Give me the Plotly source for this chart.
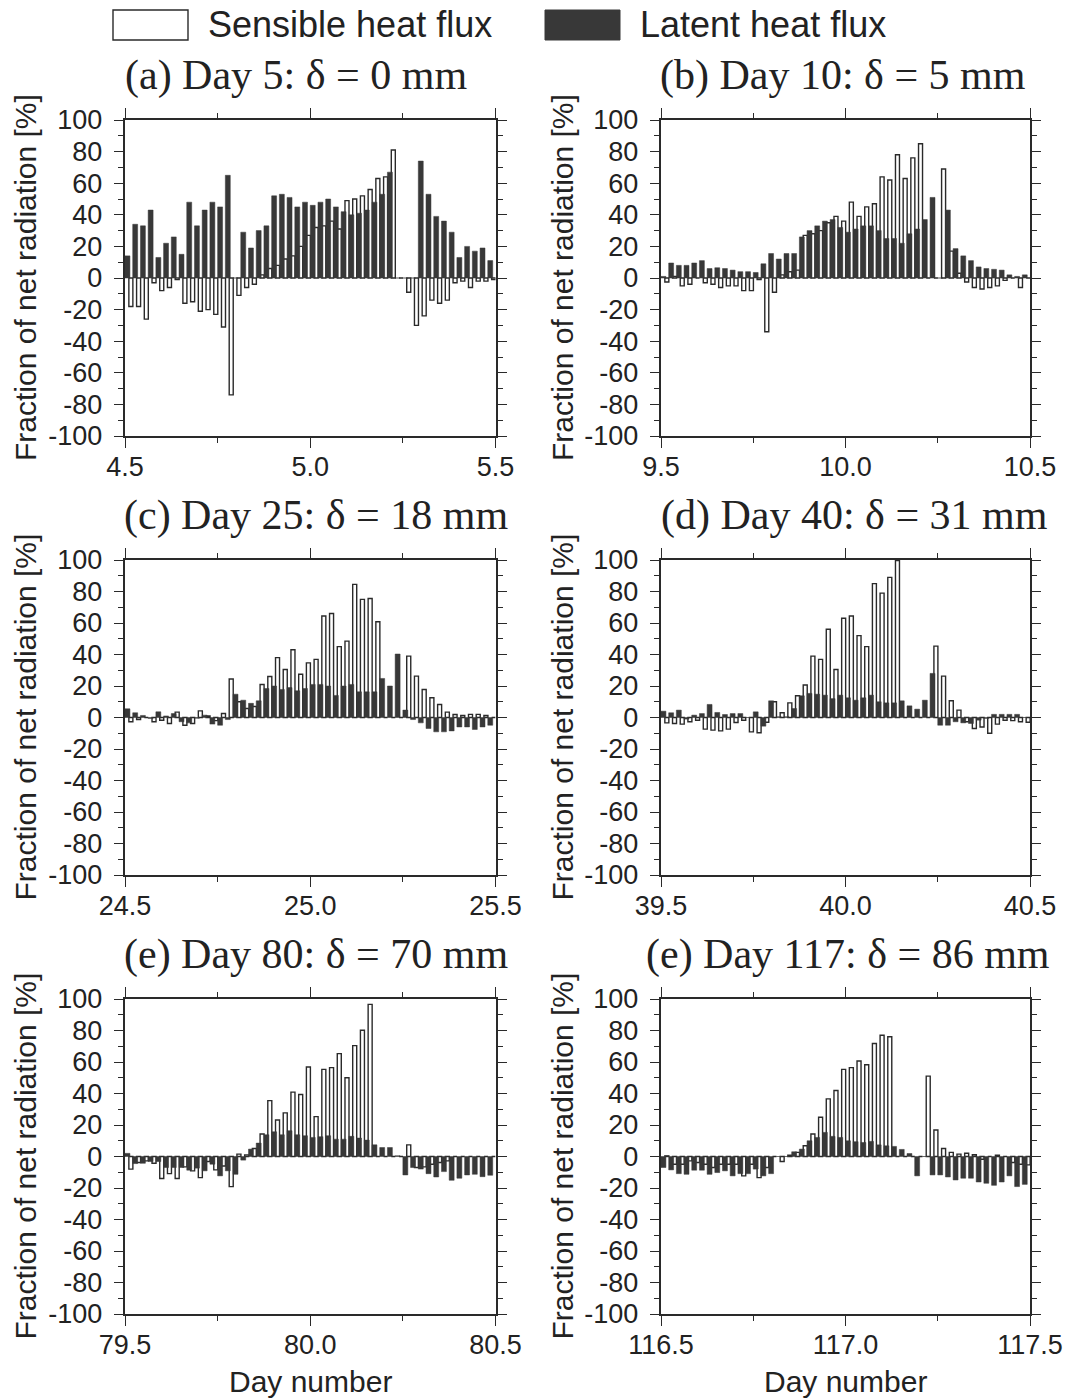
import numpy as np
import plotly.graph_objects as go

# ---------------- data ----------------
day_starts = [4.5, 9.5, 24.5, 39.5, 79.5, 116.5]
panel_titles = ["(a) Day 5: δ = 0 mm", "(b) Day 10: δ = 5 mm",
                "(c) Day 25: δ = 18 mm", "(d) Day 40: δ = 31 mm",
                "(e) Day 80: δ = 70 mm", "(e) Day 117: δ = 86 mm"]
slot_fraction = np.arange(48) / 48.0   # half-hourly slots within each plotted day

sens_a = [-18, -18, -26, -3, -8, -6, -1, -16, -15, -21, -20, -23, -31, -74, -11, -6, -4,
          2, 6, 8, 12, 14, 20, 27, 32, 33, 36, 31, 49, 50, 52, 56, 63, 64, 81,
          0, -9, -30, -24, -14, -16, -14, -3, -2, -6, -2, -2, -1]
lat_a = [14, 34, 33, 43, 13, 22, 26, 15, 48, 33, 43, 48, 45, 65, 0,
         29, 19, 30, 33, 52, 53, 51, 45, 48, 46, 48, 50, 45, 42, 40, 41, 43, 48, 53, 67,
         0, 0, 0, 74, 53, 39, 36, 29, 13, 20, 17, 19, 11]

sens_b = [-2.5, 1, -5, -4, 0, -3, -4, -6, -5, -5, -8, -8, -1, -34, -9, 2, 4, 5,
          27, 28, 30, 35, 39, 36, 48, 39, 45, 47, 64, 62, 78, 63, 76, 85, 0, 0,
          69, 17, 3, -2.5, -6, -7, -6, -5, -1.5, 0, -6, 0]
lat_b = [1, 9.5, 8, 8, 9.5, 11, 6, 6.5, 6, 5, 4, 4, 3.5,
         9, 15.5, 12, 15.5, 15.5, 26, 30, 33, 36, 37, 32, 29, 31, 33, 33, 30, 25, 25, 22, 28, 31, 37, 51,
         0, 43, 18.6, 14, 11, 7, 6, 5.5, 5, 2, 1, 2]

sens_c = [-2.7, -1.3, 0, -2.7, -1.7, -3.8, 3.4, -4.9, -3.8, 4.2, 1, -2, 2.5, 24.4,
          10, 5.7, 7, 21, 26, 38, 30.5, 43, 27.5, 34.7, 36.9, 64.4, 66, 45, 48.5, 84.5,
          75, 75.6, 60.8, 0, 0, 0, 39, 26.3, 17.8, 12.5, 8.3, 3.4, 1.9, 1.3, 2, 2, 1.3, 0]
lat_c = [5.5, 3, 1.3, -0.6, 3.6, 1, 2.5, -2.7, -3.4, -0.5, 1.5, -4.2, -4.9, -1.3,
         14.8, 11, 9, 10.6, 18.4, 20, 17.8, 19, 17, 18.4, 21, 21, 20, 14, 20, 21,
         16.3, 16.3, 16.3, 24.8, 20, 40.3, 4.7, -1.3, -3.4, -7, -9.1, -9.1, -8.5, -6, -6, -7.6, -6, -4.9]

sens_d = [-3.4, -3.8, -4.2, -2.7, -1.7, -7.4, -8, -8.5, -7.4, -3.2, -1.7, -9.1, -9.7, -3,
          10, 3, 9.3, 13.8, 20.6, 39, 36.9, 56, 30.5, 63, 64.4, 52, 45, 85, 79, 89, 99.6,
          0, 0, 0, 0, 45.3, 26.3, 10.6, 4.7, -2.7, -7, -6, -10, -4.2, -1.7, -2, -2.7, -3]
lat_d = [4, 3, 4.7, -1, 1.5, 2.5, 8.3, 3.2, 1.9, 2.5, 2.5, 0, 3.6, -5.5,
         10.6, 0.5, 0.5, 5.7, 13.8, 15.3, 14.8, 14.2, 12, 14.2, 12.5, 11, 12.5, 14.2, 10, 9.3, 9.3,
         10.6, 7.4, 5.3, 11, 28, -4.9, -4.9, -2.7, -3.4, -3.8, -1.7, -0.6, 2, 2, 2, 2, 0]

sens_e = [-8, -3.8, -2.8, -4.3, -14, -10.9, -14, -6.6, -9.1, -13.4, -3.2, -8.5, -6, -19.1,
          1.5, 1, 5.1, 14.3, 35.5, 23.2, 27.7, 40.9, 39.4, 56.8, 25.3, 55.3, 56.4, 65.3, 50,
          70.4, 80.2, 96.6, 0, 0, 0, 0, 7.4, -7, -6.6, -4.9, -3.8, -2.8, 0, 0, 0, 0, 0, 0]
lat_e = [2, -4.5, -4.3, -3.2, -3.2, -7, -7, -7, -8.7, -7.4, -9.1, -4.9, -12.3, -9.1, -11.3, -2.3,
         4.7, 8.5, 13.8, 15.7, 13.8, 16.4, 13.8, 13.2, 12.1, 12.6, 13.2, 11, 11, 12.8, 11.7, 10.4,
         7.4, 5.7, 5.7, 0.5, -11.7, -7, -8, -10.9, -13, -9.6, -15.1, -13.8, -11.7, -11.3, -12.8, -11.9]

sens_f = [0.4, -4.9, -4.9, -2.8, -3.8, -4.9, -7, -4.9, -4.9, -4.9, -12.3, -4.9, -13.4, -7,
          0, -3.2, 0.9, 2.6, 6.8, 14.3, 24.9, 36.6, 41.9, 55.3, 56.4, 60.6, 58.3, 71.7, 77, 76,
          0, 0, 0, 0, 51, 16.8, 5.1, 2.6, 1.5, 2.1, 1.1, -1.7, 0, 0.9, 0, -3.8, -4.9, -5.3]
lat_f = [-7, -8.5, -10.9, -11.3, -8.7, -8.7, -11.3, -10.2, -9.1, -12.3, -10.9, -10.9, -8, -12.3, -10.9,
         0, 0, 3, 4.7, 10, 12.1, 15.3, 12.8, 12.1, 10, 9.4, 8.9, 9.6, 7.4, 6.8, 6.4, 4.5, 1.9,
         -12.3, 0, -11.7, -11.7, -13, -14.9, -13.8, -13.8, -16.2, -17, -18.3, -16.2, -12.3, -19.1, -17.7]

sensible = [sens_a, sens_b, sens_c, sens_d, sens_e, sens_f]
latent = [lat_a, lat_b, lat_c, lat_d, lat_e, lat_f]

y_tickvals = list(range(-100, 101, 20))
y_ticktext = [str(v) for v in y_tickvals]

# ---------------- layout geometry ----------------
W, H = 1073, 1399
xdoms = [[125 / W, 495.5 / W], [661 / W, 1030 / W]]
rows_px = [(120, 436), (560, 875), (999, 1314)]
ydoms = [[1 - b / H, 1 - t / H] for t, b in rows_px]
title_centers_px = [296, 843, 316, 854, 316, 848]

DARK = "#383838"
AX = "#2a2a2a"
SANS = "Liberation Sans, Arial, sans-serif"
SERIF = "Liberation Serif, Times New Roman, serif"

fig = go.Figure()
slot = 1 / 48.0
layout = dict(width=W, height=H,
              margin=dict(l=0, r=0, t=0, b=0, pad=0, autoexpand=False),
              paper_bgcolor="white", plot_bgcolor="white", barmode="overlay",
              showlegend=False)
annotations = []

for i in range(6):
    r, c = divmod(i, 2)
    t0 = day_starts[i]
    times = t0 + slot_fraction
    n = i + 1
    xa, ya = ("x", "y") if n == 1 else (f"x{n}", f"y{n}")
    fig.add_trace(go.Bar(x=times, y=sensible[i], offset=0.5 * slot, width=0.52 * slot,
                         marker=dict(color="white", line=dict(color=AX, width=1.4)),
                         xaxis=xa, yaxis=ya, name="Sensible heat flux"))
    fig.add_trace(go.Bar(x=times, y=latent[i], offset=0.0, width=0.64 * slot,
                         marker=dict(color=DARK, line=dict(color=DARK, width=0.5)),
                         xaxis=xa, yaxis=ya, name="Latent heat flux"))
    xk = "xaxis" if n == 1 else f"xaxis{n}"
    yk = "yaxis" if n == 1 else f"yaxis{n}"
    layout[xk] = dict(domain=xdoms[c], anchor=ya, range=[t0, t0 + 1], automargin=False,
                      tickmode="array", tickvals=[t0, t0 + 0.5, t0 + 1],
                      ticktext=[f"{t0:.1f}", f"{t0 + 0.5:.1f}", f"{t0 + 1:.1f}"],
                      ticks="outside", ticklen=10, tickwidth=1.3, tickcolor=AX,
                      minor=dict(tickvals=[t0 + 0.25, t0 + 0.75], ticks="outside",
                                 ticklen=5, tickwidth=1.2, tickcolor=AX),
                      showline=True, linewidth=2.4, linecolor=AX, mirror="ticks",
                      showgrid=False, zeroline=False, ticklabelstandoff=-5,
                      tickfont=dict(family=SANS, size=27, color="#222"))
    layout[yk] = dict(domain=ydoms[r], anchor=xa, range=[-100, 100], automargin=False,
                      tickmode="array", tickvals=y_tickvals, ticktext=y_ticktext,
                      ticks="outside", ticklen=9, tickwidth=1.3, tickcolor=AX,
                      minor=dict(dtick=10, tick0=0, ticks="outside", ticklen=5,
                                 tickwidth=1.2, tickcolor=AX),
                      showline=True, linewidth=2.4, linecolor=AX, mirror="ticks",
                      showgrid=False, zeroline=False, ticklabelstandoff=6,
                      tickfont=dict(family=SANS, size=27, color="#222"))
    ytop_px = rows_px[r][0]
    annotations.append(dict(text=panel_titles[i], xref="paper", yref="paper",
                            x=title_centers_px[i] / W, y=1 - (ytop_px - 45) / H,
                            xanchor="center", yanchor="middle",
                            showarrow=False, font=dict(family=SERIF, size=42, color="#222")))
    ymid = (ydoms[r][0] + ydoms[r][1]) / 2
    annotations.append(dict(text="Fraction of net radiation [%]", xref="paper", yref="paper",
                            x=(25 if c == 0 else 562) / W, y=ymid, textangle=-90,
                            xanchor="center", yanchor="middle", showarrow=False,
                            font=dict(family=SANS, size=30, color="#222")))
    if r == 2:
        xc = (xdoms[c][0] + xdoms[c][1]) / 2
        annotations.append(dict(text="Day number", xref="paper", yref="paper",
                                x=xc, y=1 - 1381 / H, xanchor="center", yanchor="middle",
                                showarrow=False, font=dict(family=SANS, size=30, color="#222")))

# legend (drawn manually at top)
shapes = [
    dict(type="rect", xref="paper", yref="paper", x0=113 / W, x1=188 / W,
         y0=1 - 40 / H, y1=1 - 10 / H, fillcolor="white", line=dict(color=AX, width=1.4)),
    dict(type="rect", xref="paper", yref="paper", x0=545 / W, x1=620 / W,
         y0=1 - 40 / H, y1=1 - 10 / H, fillcolor=DARK, line=dict(color=DARK, width=1)),
]
annotations.append(dict(text="Sensible heat flux", xref="paper", yref="paper",
                        x=206 / W, y=1 - 25 / H, xanchor="left", yanchor="middle",
                        showarrow=False, font=dict(family=SANS, size=36, color="#222")))
annotations.append(dict(text="Latent heat flux", xref="paper", yref="paper",
                        x=638 / W, y=1 - 25 / H, xanchor="left", yanchor="middle",
                        showarrow=False, font=dict(family=SANS, size=36, color="#222")))

layout["annotations"] = annotations
layout["shapes"] = shapes
fig.update_layout(**layout)
fig.write_html("out.html", config={"displayModeBar": False},
               post_script="document.body.style.margin='0px';document.body.style.padding='0px';")
